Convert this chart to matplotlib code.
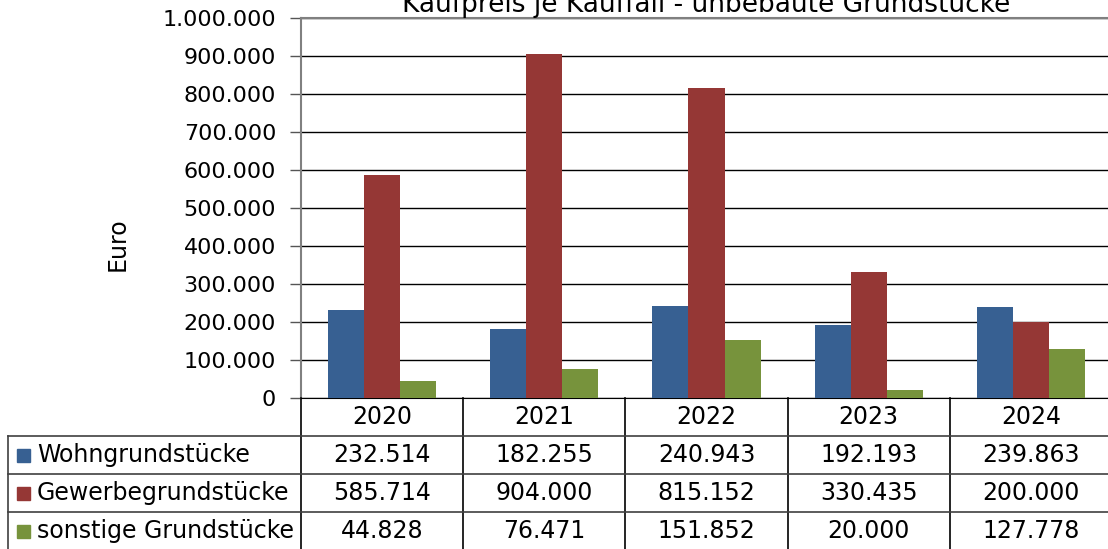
import matplotlib
matplotlib.use("Agg")
import matplotlib.pyplot as plt
import matplotlib.transforms as mtransforms
from matplotlib.lines import Line2D
from matplotlib.patches import Rectangle
from matplotlib.ticker import FuncFormatter
import numpy as np

years = ["2020", "2021", "2022", "2023", "2024"]
series_names = ["Wohngrundstücke", "Gewerbegrundstücke", "sonstige Grundstücke"]
wohn = [232514, 182255, 240943, 192193, 239863]
gewerbe = [585714, 904000, 815152, 330435, 200000]
sonstige = [44828, 76471, 151852, 20000, 127778]
colors = ["#376092", "#953735", "#77933C"]
title = "Kaufpreis je Kauffall - unbebaute Grundstücke"

W, H = 1108, 549
plt.rcParams["font.family"] = ["DejaVu Sans"]
FS = 16
FS_TAB = 17


def fx(px):
    return px / W


def fy(py):
    return 1 - py / H


def de(v):
    return f"{int(v):,}".replace(",", ".")


fig = plt.figure(figsize=(W / 100, H / 100), dpi=100)
ax = fig.add_axes([fx(301), fy(398), fx(1112) - fx(301), fy(18) - fy(398)])

x = np.arange(len(years))
bw = 0.222
for k, vals in enumerate([wohn, gewerbe, sonstige]):
    ax.bar(x + (k - 1) * bw, vals, bw, color=colors[k], zorder=3)

ax.set_xlim(-0.5, len(years) - 0.5)
ax.set_ylim(0, 1000000)
ax.set_yticks(np.arange(0, 1000001, 100000))
ax.yaxis.set_major_formatter(FuncFormatter(lambda v, p: de(v)))
ax.tick_params(axis="y", length=8, width=1, color="#555555", labelsize=FS, pad=10)
ax.set_xticks([])
ax.grid(axis="y", color="black", lw=1, zorder=1)
for s in ["left", "top"]:
    ax.spines[s].set_color("#808080")
    ax.spines[s].set_linewidth(1.5)
ax.spines["bottom"].set_color("black")
ax.spines["right"].set_visible(False)

# title sits partly above the picture, as in the original
fig.text(fx(706), fy(12), title, ha="center", va="baseline", fontsize=19)
fig.text(fx(118), fy(244), "Euro", rotation=90, ha="center", va="center", fontsize=17)

# data table under the axis
tr = mtransforms.blended_transform_factory(ax.transData, fig.transFigure)
row_top = [398, 436, 474, 512, 550]
for i in range(len(years) + 1):
    fig.add_artist(Line2D([i - 0.5, i - 0.5], [fy(398), fy(550)], transform=tr,
                          color="black", lw=1.2))
fig.add_artist(Line2D([fx(8), fx(8)], [fy(436), fy(550)], transform=fig.transFigure,
                      color="#404040", lw=1.2))
for py in row_top[1:]:
    fig.add_artist(Line2D([fx(8), fx(1108)], [fy(py), fy(py)], transform=fig.transFigure,
                          color="#404040", lw=1.2))

for i, yr in enumerate(years):
    fig.text(i, fy(417), yr, transform=tr, ha="center", va="center", fontsize=FS_TAB)

for r, (name, vals) in enumerate(zip(series_names, [wohn, gewerbe, sonstige])):
    yc = (row_top[r + 1] + row_top[r + 2]) / 2
    fig.add_artist(Rectangle((fx(17), fy(yc + 6.5)), fx(13), fy(0) - fy(13),
                             transform=fig.transFigure, color=colors[r]))
    fig.text(fx(37), fy(yc), name, ha="left", va="center", fontsize=FS_TAB)
    for i, v in enumerate(vals):
        fig.text(i, fy(yc), de(v), transform=tr, ha="center", va="center", fontsize=FS_TAB)

fig.savefig("out.png", dpi=100)
